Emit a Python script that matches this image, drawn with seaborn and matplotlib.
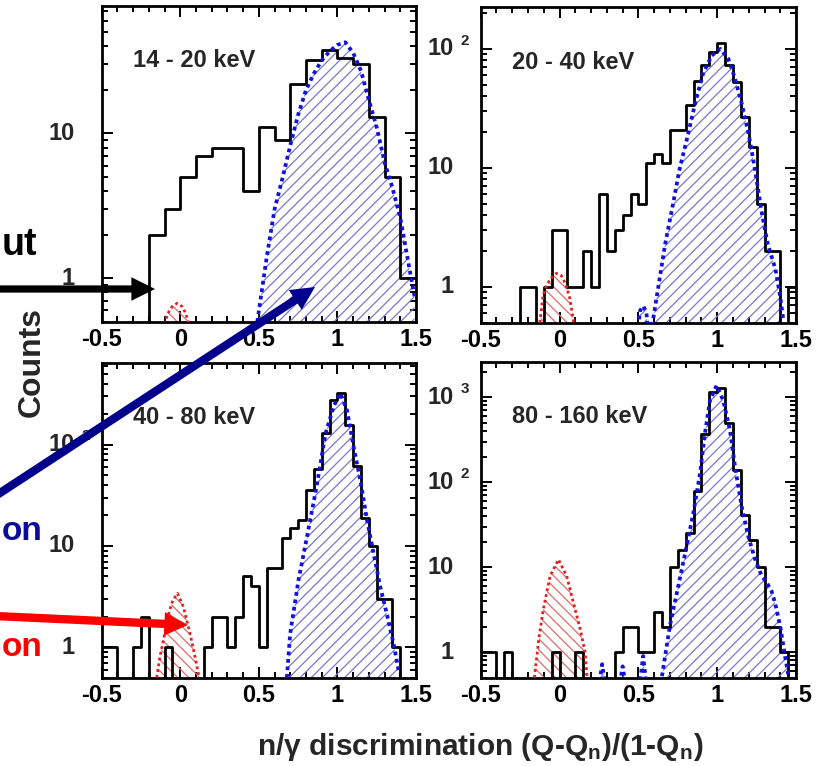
import numpy as np
import pandas as pd
import matplotlib
matplotlib.use("Agg")
import matplotlib.pyplot as plt
import seaborn as sns
from matplotlib.patches import FancyArrowPatch
from matplotlib.ticker import FixedLocator, MultipleLocator, LogLocator, NullFormatter

sns.set_style("ticks")
plt.rcParams["font.family"] = ["Liberation Sans", "DejaVu Sans"]
plt.rcParams["font.weight"] = "bold"
plt.rcParams["mathtext.fontset"] = "custom"
plt.rcParams["mathtext.rm"] = "Liberation Sans:bold"
plt.rcParams["mathtext.it"] = "Liberation Sans:bold:italic"
plt.rcParams["mathtext.bf"] = "Liberation Sans:bold"
plt.rcParams["hatch.linewidth"] = 0.9

# ---------------- data ----------------
energy_labels = ["14 - 20 keV", "20 - 40 keV", "40 - 80 keV", "80 - 160 keV"]
bin_widths = [0.1, 0.05, 0.05, 0.05]

# measured counts per bin, bins start at -0.5
counts_14_20 = [0, 0, 0, 2, 3, 5, 7, 8, 8, 4, 11, 9, 22, 32, 38, 33, 30, 13, 5, 1]
counts_20_40 = [0, 0, 0, 0, 0, 1, 1, 0, 1, 3, 3, 1, 1, 2, 1, 6, 2, 3, 4, 6,
                5, 11, 13, 11, 21, 21, 34, 54, 73, 95, 112, 73, 53, 27, 15, 5, 2, 2, 0, 1]
counts_40_80 = [1, 1, 0, 0, 1, 2, 0, 0, 1, 0, 0, 0, 0, 1, 2, 2, 1, 2, 5, 4,
                1, 6, 6, 12, 15, 18, 36, 58, 131, 273, 322, 157, 62, 19, 10, 3, 3, 1, 0, 0]
counts_80_160 = [1, 1, 0, 1, 0, 0, 0, 0, 0, 1, 0, 0, 1, 0, 0, 0, 0, 1, 2, 2,
                 1, 1, 3, 2, 10, 16, 25, 78, 370, 1150, 1300, 500, 139, 41, 21, 10, 2, 2, 1, 0]

# simulated neutron response (blue)
neutron_x_14_20 = [0.49, 0.55, 0.60, 0.65, 0.70, 0.75, 0.80, 0.85, 0.90, 0.95, 1.00,
                   1.05, 1.10, 1.15, 1.20, 1.25, 1.30, 1.35, 1.40, 1.45, 1.49]
neutron_y_14_20 = [0.5, 1.4, 3.0, 4.9, 8.3, 13.5, 20, 26, 32, 37, 41,
                   42.7, 36, 27, 17, 11, 6.3, 4.2, 2.6, 1.3, 0.75]
neutron_x_20_40 = [0.495, 0.51, 0.53, 0.55, 0.565, 0.59, 0.63, 0.67, 0.72, 0.76, 0.81,
                   0.86, 0.91, 0.965, 1.02, 1.07, 1.11, 1.155, 1.20, 1.24, 1.28,
                   1.32, 1.37, 1.40, 1.42]
neutron_y_20_40 = [0.4, 0.63, 0.69, 0.62, 0.4, 0.5, 1.07, 2.3, 5.0, 9.6, 18,
                   35, 62, 88, 100, 83, 58, 35, 19, 9.6, 4.4,
                   2.3, 1.4, 0.82, 0.52]
neutron_x_40_80 = [0.678, 0.699, 0.752, 0.806, 0.859, 0.89, 0.922, 0.975, 1.018, 1.06,
                   1.103, 1.145, 1.188, 1.23, 1.273, 1.315, 1.357, 1.389]
neutron_y_40_80 = [0.5, 1.36, 4.6, 12.3, 33, 62, 125, 238, 322, 220,
                   95, 45, 18, 8.4, 3.9, 2.1, 1.08, 0.59]
neutron_x_80_160 = [0.24, 0.27, 0.30, 0.37, 0.40, 0.43, 0.50, 0.53, 0.56,
                    0.648, 0.70, 0.753, 0.806, 0.848, 0.891, 0.922, 0.954, 0.996, 1.038,
                    1.081, 1.113, 1.155, 1.197, 1.24, 1.282, 1.314, 1.345, 1.367, 1.40,
                    1.43, 1.45]
neutron_y_80_160 = [0.3, 0.72, 0.3, 0.3, 0.68, 0.3, 0.3, 0.9, 0.3,
                    0.5, 2.05, 6.0, 17.7, 43, 127, 374, 918, 1375, 918,
                    409, 152, 52, 23, 12.4, 7.9, 6.6, 5.2, 3.8, 2.0,
                    0.9, 0.55]

# simulated gamma response (red)
gamma_x_14_20 = [-0.10, -0.08, -0.05, -0.02, 0.01, 0.035, 0.055]
gamma_y_14_20 = [0.48, 0.57, 0.64, 0.67, 0.64, 0.57, 0.48]
gamma_x_20_40 = [-0.125, -0.105, -0.08, -0.05, -0.02, 0.01, 0.04, 0.065, 0.09]
gamma_y_20_40 = [0.5, 0.85, 1.05, 1.2, 1.3, 1.25, 1.05, 0.8, 0.5]
gamma_x_40_80 = [-0.15, -0.13, -0.108, -0.076, -0.048, -0.018, 0.02, 0.062, 0.094, 0.12]
gamma_y_40_80 = [0.5, 0.8, 1.16, 2.1, 2.9, 3.4, 2.5, 1.36, 0.8, 0.5]
gamma_x_80_160 = [-0.16, -0.13, -0.103, -0.06, -0.007, 0.045, 0.088, 0.13, 0.162, 0.175]
gamma_y_80_160 = [0.5, 1.5, 3.2, 7.9, 12.3, 7.9, 3.8, 1.9, 1.0, 0.5]

x_tick_values = [-0.5, 0, 0.5, 1, 1.5]
x_tick_labels = ["-0.5", "0", "0.5", "1", "1.5"]

panels = [
    (counts_14_20, neutron_x_14_20, neutron_y_14_20, gamma_x_14_20, gamma_y_14_20),
    (counts_20_40, neutron_x_20_40, neutron_y_20_40, gamma_x_20_40, gamma_y_20_40),
    (counts_40_80, neutron_x_40_80, neutron_y_40_80, gamma_x_40_80, gamma_y_40_80),
    (counts_80_160, neutron_x_80_160, neutron_y_80_160, gamma_x_80_160, gamma_y_80_160),
]

# ---------------- figure ----------------
fig = plt.figure(figsize=(8.25, 7.66), dpi=100)
fig.patch.set_facecolor("white")
axes_rects = [
    [0.1233, 0.5800, 0.3810, 0.4121],
    [0.5827, 0.5787, 0.3822, 0.4118],
    [0.1233, 0.1153, 0.3810, 0.4112],
    [0.5827, 0.1153, 0.3822, 0.4121],
]

BLUE_HATCH = "#7878cc"
RED_HATCH = "#e46a6a"
TICK_FS = 17

for rect, label, width, (counts, nx, ny, gx, gy) in zip(axes_rects, energy_labels, bin_widths, panels):
    ax = fig.add_axes(rect)
    ax.set_facecolor("white")
    ax.set_yscale("log")

    edges = [round(-0.5 + i * width, 4) for i in range(len(counts) + 1)]
    centers = [(a + b) / 2 for a, b in zip(edges[:-1], edges[1:])]
    hist_df = pd.DataFrame({"q": centers, "n": counts})
    neutron_df = pd.DataFrame({"q": nx, "n": ny})
    gamma_df = pd.DataFrame({"q": gx, "n": gy})

    # hatched simulated shapes
    ax.fill_between(nx, ny, 0.3, facecolor="none", edgecolor=BLUE_HATCH,
                    hatch="///", linewidth=0, zorder=1.5)
    ax.fill_between(gx, gy, 0.3, facecolor="none", edgecolor=RED_HATCH,
                    hatch="\\\\\\", linewidth=0, zorder=1.5)

    # measured histogram
    sns.histplot(data=hist_df, x="q", weights="n", bins=edges, element="step",
                 fill=False, color="black", linewidth=2.0, ax=ax, zorder=3)

    # dotted outlines of simulated shapes
    sns.lineplot(data=neutron_df, x="q", y="n", sort=False, estimator=None,
                 color="#1010e0", linewidth=2.7, linestyle=(0, (1.0, 1.0)),
                 ax=ax, zorder=4)
    sns.lineplot(data=gamma_df, x="q", y="n", sort=False, estimator=None,
                 color="#e02020", linewidth=2.0, linestyle=(0, (1.0, 1.1)),
                 ax=ax, zorder=4)

    ymax = 2 * max(counts)
    ax.set_xlim(-0.5, 1.5)
    ax.set_ylim(0.5, ymax)
    ax.set_xlabel("")
    ax.set_ylabel("")

    ax.set_xticks(x_tick_values)
    ax.set_xticklabels(x_tick_labels)
    ax.xaxis.set_minor_locator(MultipleLocator(0.1))

    decades = [d for d in range(0, 5) if 10 ** d <= ymax]
    ax.yaxis.set_major_locator(FixedLocator([10.0 ** d for d in decades]))
    ax.yaxis.set_minor_locator(LogLocator(base=10, subs=np.arange(2, 10)))
    ax.yaxis.set_major_formatter(NullFormatter())
    ax.yaxis.set_minor_formatter(NullFormatter())

    ax.tick_params(which="both", direction="in", top=True, right=True,
                   width=1.4, colors="black")
    ax.tick_params(which="major", length=8, labelsize=TICK_FS, pad=4.5)
    ax.tick_params(which="minor", length=4.5)
    for sp in ax.spines.values():
        sp.set_linewidth(2.0)
        sp.set_color("black")

    # y tick labels in 10^n style
    for d in decades:
        ax.annotate("1" if d == 0 else "10", xy=(0, 10.0 ** d),
                    xycoords=("axes fraction", "data"), xytext=(-19.5, 0),
                    textcoords="offset points", ha="right", va="center",
                    fontsize=TICK_FS, fontweight="bold", annotation_clip=False)
        if d >= 2:
            ax.annotate(str(d), xy=(0, 10.0 ** d),
                        xycoords=("axes fraction", "data"), xytext=(-14.5, 6),
                        textcoords="offset points", ha="left", va="center",
                        fontsize=11, fontweight="bold", annotation_clip=False)

    ax.text(0.099, 0.826, label, transform=ax.transAxes, ha="left", va="center",
            fontsize=17, fontweight="bold")

# axis titles
fig.text(0.5824, 0.0144, r"n/γ discrimination (Q-Q$_{\mathrm{n}}$)/(1-Q$_{\mathrm{n}}$)",
         ha="center", va="baseline", fontsize=21.5, fontweight="bold")
fig.text(0.0384, 0.527, "Counts", rotation=90, ha="center", va="center",
         fontsize=23, fontweight="bold")

# annotations on the left margin
fig.text(0.002, 0.667, "ut", ha="left", va="baseline", fontsize=27,
         fontweight="bold", color="black")
fig.text(0.002, 0.295, "on", ha="left", va="baseline", fontsize=24,
         fontweight="bold", color="#0c0c9a")
fig.text(0.002, 0.143, "on", ha="left", va="baseline", fontsize=24,
         fontweight="bold", color="#ff0000")

arrow_specs = [
    ((-0.05, 4.77), (1.55, 4.77), "black", 5.2),
    ((-0.10, 2.665), (3.15, 4.79), "#00008c", 6.0),
    ((-0.05, 1.50), (1.88, 1.41), "#ff0000", 6.0),
]
for start, end, col, tail in arrow_specs:
    arr = FancyArrowPatch(start, end, transform=fig.dpi_scale_trans,
                          arrowstyle=f"simple,head_length=17,head_width=17,tail_width={tail}",
                          mutation_scale=1, color=col, shrinkA=0, shrinkB=0,
                          linewidth=0, zorder=10)
    fig.add_artist(arr)

fig.savefig("out.png", dpi=100, facecolor="white")
